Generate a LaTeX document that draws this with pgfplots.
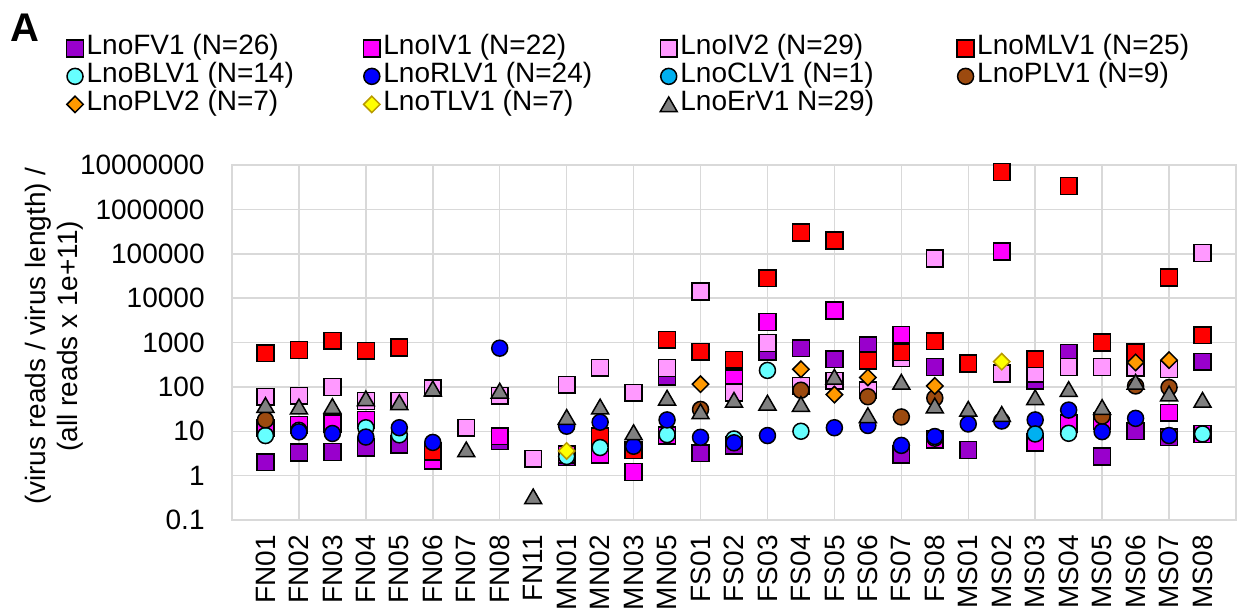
\documentclass[border=0pt]{standalone}
\usepackage{fontspec}
\setmainfont{Liberation Sans}
\usepackage{pgfplots}
\pgfplotsset{compat=1.18}
\definecolor{cFV}{HTML}{9900CC}
\definecolor{cIV}{HTML}{FF00FF}
\definecolor{cIVb}{HTML}{FF99FF}
\definecolor{cML}{HTML}{FF0000}
\definecolor{cBL}{HTML}{66FFFF}
\definecolor{cRL}{HTML}{0000FF}
\definecolor{cCL}{HTML}{00B0F0}
\definecolor{cPL}{HTML}{9C4A0F}
\definecolor{cPLb}{HTML}{FF9900}
\definecolor{cTL}{HTML}{FFFF00}
\definecolor{cTLb}{HTML}{B89A00}
\definecolor{cEr}{HTML}{808080}
\definecolor{gridc}{HTML}{D9D9D9}
\newcommand\ff{\fontsize{14bp}{16bp}\selectfont}
\newcommand\legtxt[1]{\makebox[135bp][l]{#1}}
\begin{document}
\begin{tikzpicture}
\begin{axis}[name=ax, scale only axis, width=502bp, height=177.5bp,
  ymode=log, ymin=0.1, ymax=1e7, xmin=-1, xmax=29,
  ytick={0.1,1,10,100,1000,10000,100000,1000000,10000000},
  yticklabels={0.1,1,10,100,1000,10000,100000,1000000,10000000},
  xtick={0,...,28},
  xticklabels={FN01,FN02,FN03,FN04,FN05,FN06,FN07,FN08,FN11,MN01,MN02,MN03,MN05,FS01,FS02,FS03,FS04,FS05,FS06,FS07,FS08,MS01,MS02,MS03,MS04,MS05,MS06,MS07,MS08},
  minor xtick={1,3,...,27},
  xminorgrids=true, ymajorgrids=true, xmajorgrids=false, yminorgrids=false,
  grid style={gridc, line width=0.75bp},
  minor grid style={gridc, line width=0.75bp},
  major tick length=0pt, minor tick length=0pt,
  axis line style={gridc, line width=0.75bp},
  tick label style={font=\ff, inner sep=0pt},
  xticklabel style={rotate=90, anchor=east},
  xticklabel shift=7.5bp,
  yticklabel shift=13.5bp,
  ylabel={(virus reads / virus length) /\\(all reads x 1e+11)},
  ylabel style={align=center, font=\ff, at={(axis description cs:-0.177,0.518)}, anchor=center},
  legend columns=4,
  legend cell align=left,
  legend image code/.code={\draw[mark repeat=2,mark phase=2,#1] plot coordinates {(0bp,0bp) (5bp,0bp) (10bp,0bp)};},
  legend style={at={(axis description cs:-0.1647,1.368)}, anchor=north west, draw=none, fill=none,
    font=\ff, inner sep=0pt, outer sep=0pt, row sep=0pt,
    nodes={inner sep=0pt, text height=10.3bp, text depth=3.7bp},
    /tikz/every odd column/.append style={column sep=1.6bp},
    /tikz/every even column/.append style={column sep=3.4bp}},
]
% LnoFV1
\addplot[only marks, color=cFV, mark=square*, mark size=4.2bp, mark options={draw=black, fill=cFV, line width=0.75bp}] table[row sep=\\]{
x y\\ 0 2.0\\ 1 3.3\\ 2 3.4\\ 3 4.3\\ 4 5.0\\ 7 6.0\\ 9 2.6\\ 12 170\\ 13 3.2\\ 14 4.8\\ 15 620\\ 16 740\\ 17 420\\ 18 870\\ 19 3.0\\ 20 280\\ 21 3.8\\ 23 140\\ 24 590\\ 25 2.7\\ 26 10\\ 27 7.3\\ 28 370\\
};
\addlegendentry{\legtxt{LnoFV1 (N=26)}}
% LnoIV1
\addplot[only marks, color=cIV, mark=square*, mark size=4.2bp, mark options={draw=black, fill=cIV, line width=0.75bp}] table[row sep=\\]{
x y\\ 0 12\\ 1 14\\ 2 15\\ 3 18\\ 5 2.2\\ 7 7.7\\ 9 3.0\\ 10 3.0\\ 11 1.2\\ 12 8\\ 14 155\\ 15 2900\\ 17 5300\\ 19 1500\\ 20 6.5\\ 22 113000\\ 23 5.6\\ 24 15\\ 25 17\\ 27 26\\ 28 8.7\\
};
\addlegendentry{\legtxt{LnoIV1 (N=22)}}
% LnoIV2
\addplot[only marks, color=cIVb, mark=square*, mark size=4.2bp, mark options={draw=black, fill=cIVb, line width=0.75bp}] table[row sep=\\]{
x y\\ 0 60\\ 1 63\\ 2 100\\ 3 48\\ 4 48\\ 5 93\\ 6 12\\ 7 63\\ 8 2.4\\ 9 112\\ 10 270\\ 11 74\\ 12 265\\ 13 14000\\ 14 75\\ 15 970\\ 16 105\\ 17 137\\ 18 84\\ 19 450\\ 20 78000\\ 21 330\\ 22 200\\ 23 200\\ 24 280\\ 25 280\\ 26 275\\ 27 250\\ 28 104000\\
};
\addlegendentry{\legtxt{LnoIV2 (N=29)}}
% LnoMLV1
\addplot[only marks, color=cML, mark=square*, mark size=4.2bp, mark options={draw=black, fill=cML, line width=0.75bp}] table[row sep=\\]{
x y\\ 0 570\\ 1 680\\ 2 1090\\ 3 650\\ 4 770\\ 5 3.5\\ 10 7.7\\ 11 3.8\\ 12 1150\\ 13 620\\ 14 410\\ 15 28000\\ 16 300000\\ 17 200000\\ 18 390\\ 19 600\\ 20 1070\\ 21 340\\ 22 7000000\\ 23 420\\ 24 3350000\\ 25 1000\\ 26 600\\ 27 29000\\ 28 1450\\
};
\addlegendentry{\legtxt{LnoMLV1 (N=25)}}
% LnoBLV1
\addplot[only marks, color=cBL, mark=*, mark size=4bp, mark options={draw=black, fill=cBL, line width=0.75bp}] table[row sep=\\]{
x y\\ 0 8\\ 1 10.5\\ 3 12\\ 4 8.3\\ 9 2.7\\ 10 4.3\\ 12 8.4\\ 14 6.7\\ 15 235\\ 16 10\\ 20 7\\ 24 9\\ 28 8.7\\
};
\addlegendentry{\legtxt{LnoBLV1 (N=14)}}
% LnoRLV1
\addplot[only marks, color=cRL, mark=*, mark size=4bp, mark options={draw=black, fill=cRL, line width=0.75bp}] table[row sep=\\]{
x y\\ 1 9.7\\ 2 8.9\\ 3 7.4\\ 4 12\\ 5 5.6\\ 7 745\\ 9 13\\ 10 16\\ 11 4.6\\ 12 18\\ 13 7.3\\ 14 5.5\\ 15 8\\ 17 12\\ 18 13.5\\ 19 4.8\\ 20 7.6\\ 21 14.6\\ 22 17\\ 23 18\\ 24 30\\ 25 9.8\\ 26 19.5\\ 27 8\\
};
\addlegendentry{\legtxt{LnoRLV1 (N=24)}}
% LnoCLV1
\addplot[only marks, color=cCL, mark=*, mark size=4bp, mark options={draw=black, fill=cCL, line width=0.75bp}] table[row sep=\\]{
x y\\ 23 8.7\\
};
\addlegendentry{\legtxt{LnoCLV1 (N=1)}}
% LnoPLV1
\addplot[only marks, color=cPL, mark=*, mark size=4bp, mark options={draw=black, fill=cPL, line width=0.75bp}] table[row sep=\\]{
x y\\ 0 18\\ 13 31\\ 16 84\\ 18 60\\ 19 21\\ 20 56\\ 25 22\\ 26 105\\ 27 97\\
};
\addlegendentry{\legtxt{LnoPLV1 (N=9)}}
% LnoPLV2
\addplot[only marks, color=cPLb, mark=square*, mark size=2.9bp, mark options={rotate=45, draw=black, fill=cPLb, line width=0.75bp}] table[row sep=\\]{
x y\\ 13 115\\ 16 250\\ 17 67\\ 18 163\\ 20 105\\ 26 355\\ 27 400\\
};
\addlegendentry{\legtxt{LnoPLV2 (N=7)}}
% LnoTLV1
\addplot[only marks, color=cTL, mark=square*, mark size=2.9bp, mark options={rotate=45, draw=cTLb, fill=cTL, line width=0.75bp}] table[row sep=\\]{
x y\\ 9 3.6\\ 22 370\\
};
\addlegendentry{\legtxt{LnoTLV1 (N=7)}}
% LnoErV1
\addplot[only marks, color=cEr, mark=triangle*, mark size=4.9bp, mark options={draw=black, fill=cEr, line width=0.75bp, yshift=-1.2bp}] table[row sep=\\]{
x y\\ 0 39\\ 1 36\\ 2 37\\ 3 55\\ 4 45\\ 5 92\\ 6 3.9\\ 7 82\\ 8 0.34\\ 9 21\\ 10 36\\ 11 9.5\\ 12 57\\ 13 28\\ 14 51\\ 15 44\\ 16 41\\ 17 169\\ 18 23\\ 19 130\\ 20 38\\ 21 32\\ 22 24.5\\ 23 58\\ 24 89\\ 25 35\\ 26 130\\ 27 71\\ 28 51\\
};
\addlegendentry{\legtxt{LnoErV1 N=29)}}
\end{axis}
\node[anchor=north west, inner sep=0pt, font=\bfseries\fontsize{20bp}{20bp}\selectfont] at ([shift={(-111bp,253bp)}]ax.south west) {A};
\pgfresetboundingbox
\path[use as bounding box] ([shift={(-116bp,-45.5bp)}]ax.south west) rectangle ([shift={(505bp,260bp)}]ax.south west);
\end{tikzpicture}
\end{document}
